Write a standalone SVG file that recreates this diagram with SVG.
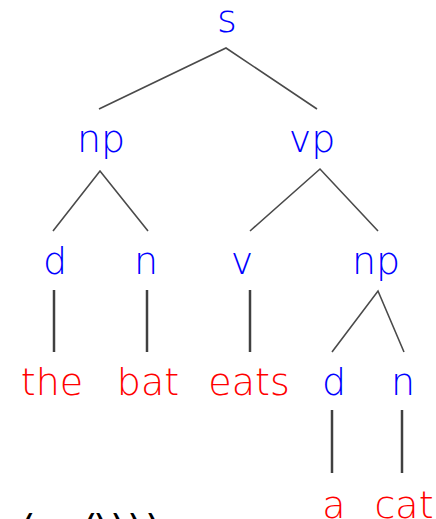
<svg xmlns="http://www.w3.org/2000/svg" width="436" height="519" viewBox="0 0 436 519">
  <style>
    text { font-family: "DejaVu Sans", "Liberation Sans", sans-serif; font-size: 38px; font-weight: 200; text-anchor: middle; }
    .cat { fill: #0000ff; }
    .word { fill: #ff0000; }
    .brk { fill: #000000; text-anchor: start; font-size: 40px; font-weight: 400; }
    .branch { stroke: #4a4a4a; stroke-width: 1.6; fill: none; }
    .leaf { stroke: #404040; stroke-width: 2.5; fill: none; }
  </style>
  <rect width="436" height="519" fill="#ffffff"/>

  <g id="connectors">
    <!-- s -> np, vp -->
    <path class="branch" d="M99,109 L226,48 L317,109"/>
    <!-- np -> d, n -->
    <path class="branch" d="M53,231 L100,171 L148,231"/>
    <!-- vp -> v, np -->
    <path class="branch" d="M250,231 L320,169 L378,231"/>
    <!-- np -> d, n (object) -->
    <path class="branch" d="M332,352 L378,291 L404,352"/>
    <!-- pre-terminal to word -->
    <line class="leaf" x1="54" y1="290" x2="54" y2="352"/>
    <line class="leaf" x1="147" y1="290" x2="147" y2="352"/>
    <line class="leaf" x1="250" y1="290" x2="250" y2="352"/>
    <line class="leaf" x1="332" y1="410" x2="332" y2="473"/>
    <line class="leaf" x1="402" y1="410" x2="402" y2="473"/>
  </g>

  <g id="s"><text class="cat" x="227" y="32">s</text></g>
  <g id="np1"><text class="cat" x="101" y="152">np</text></g>
  <g id="vp"><text class="cat" x="312" y="152">vp</text></g>
  <g id="d1"><text class="cat" x="55" y="274">d</text></g>
  <g id="n1"><text class="cat" x="146" y="274">n</text></g>
  <g id="v"><text class="cat" x="242" y="274">v</text></g>
  <g id="np2"><text class="cat" x="376" y="274">np</text></g>
  <g id="the"><text class="word" x="52" y="395">the</text></g>
  <g id="bat"><text class="word" x="148" y="395">bat</text></g>
  <g id="eats"><text class="word" x="249" y="395">eats</text></g>
  <g id="d2"><text class="cat" x="334" y="395">d</text></g>
  <g id="n2"><text class="cat" x="403" y="395">n</text></g>
  <g id="a"><text class="word" x="334" y="518">a</text></g>
  <g id="cat"><text class="word" x="404" y="518">cat</text></g>

  <!-- bracketed form, clipped by the lower edge -->
  <text class="brk" x="20 82 93 110 127 145" y="544">(())))</text>
</svg>
